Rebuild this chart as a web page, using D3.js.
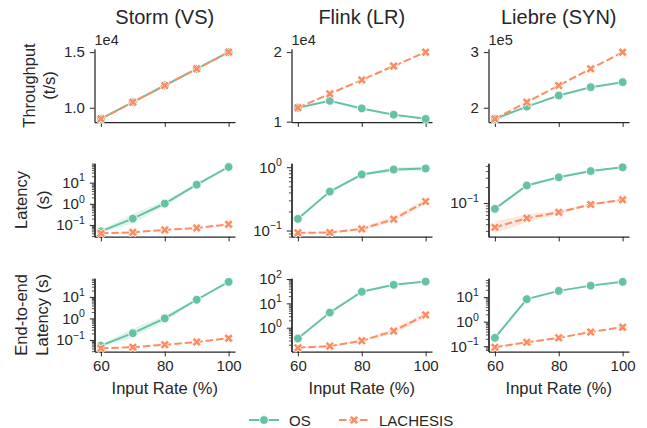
<!DOCTYPE html>
<html>
<head>
<meta charset="utf-8">
<script src="https://cdn.jsdelivr.net/npm/d3@7"></script>
<style>
  body { margin: 0; background: #fff; }
  text { font-family: "Liberation Sans", Arial, sans-serif; fill: #262626; }
</style>
</head>
<body>
<div id="chart"></div>
<script>
// ---- data ----
const inputRate = [60, 70, 80, 90, 100];
const systems = ["Storm (VS)", "Flink (LR)", "Liebre (SYN)"];
const metricLabels = [["Throughput", "(t/s)"], ["Latency", "(s)"], ["End-to-end", "Latency (s)"]];
const seriesNames = ["OS", "LACHESIS"];

// throughput (t/s)
const stormThrOS = [9000, 10500, 12000, 13500, 15000];
const stormThrLA = [9000, 10500, 12000, 13500, 15000];
const flinkThrOS = [12000, 13000, 11900, 11000, 10400];
const flinkThrLA = [12000, 14000, 16000, 18000, 20000];
const liebreThrOS = [180000, 202000, 222000, 237000, 246000];
const liebreThrLA = [180000, 210000, 240000, 270000, 300000];

// throughput tick values / labels / offset text
const stormThrTicks = [10000, 15000], stormThrTickText = ["1.0", "1.5"];
const flinkThrTicks = [10000, 20000], flinkThrTickText = ["1", "2"];
const liebreThrTicks = [200000, 300000], liebreThrTickText = ["2", "3"];
const thrOffsets = ["1e4", "1e4", "1e5"];

// latency (s)
const stormLatOS = [0.05, 0.2, 1.03, 8.0, 55];
const stormLatLA = [0.04, 0.045, 0.058, 0.072, 0.107];
const flinkLatOS = [0.153, 0.413, 0.767, 0.92, 0.955];
const flinkLatLA = [0.092, 0.093, 0.106, 0.151, 0.287];
const liebreLatOS = [0.078, 0.214, 0.305, 0.40, 0.47];
const liebreLatLA = [0.035, 0.052, 0.067, 0.094, 0.115];

// end-to-end latency (s)
const stormE2eOS = [0.054, 0.206, 1.0, 7.4, 50];
const stormE2eLA = [0.041, 0.046, 0.06, 0.08, 0.12];
const flinkE2eOS = [0.36, 4.2, 30, 58, 79];
const flinkE2eLA = [0.15, 0.175, 0.29, 0.73, 3.35];
const liebreE2eOS = [0.22, 8.3, 18, 29.5, 42];
const liebreE2eLA = [0.091, 0.145, 0.22, 0.38, 0.6];

// confidence bands as ratio around the mean (1 = no band)
const noBand = [1, 1, 1, 1, 1];
const stormLatOSBand = [1.15, 1.7, 1.35, 1.12, 1.04];
const stormE2eOSBand = [1.15, 1.65, 1.35, 1.12, 1.04];
const flinkLatOSBand = [1.03, 1.03, 1.05, 1.08, 1.07];
const flinkLatLABand = [1.02, 1.02, 1.06, 1.1, 1.1];
const flinkE2eLABand = [1.05, 1.05, 1.1, 1.3, 1.3];
const liebreLatOSBand = [1.08, 1.05, 1.03, 1.03, 1.03];
const liebreLatLABand = [1.3, 1.18, 1.08, 1.05, 1.05];
const liebreE2eOSBand = [1.2, 1.05, 1.03, 1.03, 1.03];
const liebreE2eLABand = [1.1, 1.05, 1.03, 1.03, 1.03];

// ---- layout ----
const W = 647, H = 428;
const colLeft = [94.5, 291.5, 488.5];
const rowTop = [48.8, 163.3, 278.2];
const panelW = 140.5, panelH = 73.4;
const green = "#66c2a5", orange = "#fc8d62", ink = "#262626";
const tickFont = 15;

const panels = [
  {row: 0, col: 0, log: false, os: stormThrOS, la: stormThrLA, ticks: stormThrTicks, tickText: stormThrTickText},
  {row: 0, col: 1, log: false, os: flinkThrOS, la: flinkThrLA, ticks: flinkThrTicks, tickText: flinkThrTickText},
  {row: 0, col: 2, log: false, os: liebreThrOS, la: liebreThrLA, ticks: liebreThrTicks, tickText: liebreThrTickText},
  {row: 1, col: 0, log: true, os: stormLatOS, la: stormLatLA, osBand: stormLatOSBand},
  {row: 1, col: 1, log: true, os: flinkLatOS, la: flinkLatLA, osBand: flinkLatOSBand, laBand: flinkLatLABand},
  {row: 1, col: 2, log: true, os: liebreLatOS, la: liebreLatLA, osBand: liebreLatOSBand, laBand: liebreLatLABand},
  {row: 2, col: 0, log: true, os: stormE2eOS, la: stormE2eLA, osBand: stormE2eOSBand},
  {row: 2, col: 1, log: true, os: flinkE2eOS, la: flinkE2eLA, laBand: flinkE2eLABand},
  {row: 2, col: 2, log: true, os: liebreE2eOS, la: liebreE2eLA, osBand: liebreE2eOSBand, laBand: liebreE2eLABand}
];

const svg = d3.select("#chart").append("svg")
  .attr("width", W)
  .attr("height", H);

// filled "X" marker like matplotlib's
function xMarkerPath(ms) {
  const pts = [[-1, -2], [0, -1], [1, -2], [2, -1], [1, 0], [2, 1],
               [1, 2], [0, 1], [-1, 2], [-2, 1], [-1, 0], [-2, -1]];
  return "M" + pts.map(p => [p[0] * ms / 4, p[1] * ms / 4].join(",")).join("L") + "Z";
}

function styleAxis(ax) {
  ax.select(".domain").attr("stroke", ink).attr("stroke-width", 1.25);
  ax.selectAll(".tick line").attr("stroke", ink).attr("stroke-width", 1);
  ax.selectAll(".tick text").attr("fill", ink);
  ax.attr("font-size", tickFont).attr("font-family", null);
}

panels.forEach(p => {
  const left = colLeft[p.col], top = rowTop[p.row];
  const g = svg.append("g").attr("transform", `translate(${left},${top})`);
  const osBand = p.osBand || noBand, laBand = p.laBand || noBand;

  const x = d3.scaleLinear().domain([58, 102]).range([0, panelW]);

  const allVals = [];
  [[p.os, osBand], [p.la, laBand]].forEach(([vals, band]) => {
    vals.forEach((v, i) => { allVals.push(v / band[i], v * band[i]); });
  });

  let y;
  if (p.log) {
    const lo = Math.log10(d3.min(allVals)), hi = Math.log10(d3.max(allVals));
    const pad = (hi - lo) * 0.05;
    y = d3.scaleLog().domain([10 ** (lo - pad), 10 ** (hi + pad)]).range([panelH, 0]);
  } else {
    const lo = d3.min(allVals), hi = d3.max(allVals);
    const pad = (hi - lo) * 0.05;
    y = d3.scaleLinear().domain([lo - pad, hi + pad]).range([panelH, 0]);
  }

  // bands
  [[p.os, osBand, green], [p.la, laBand, orange]].forEach(([vals, band, color]) => {
    if (band.every(b => b === 1)) return;
    const area = d3.area()
      .x((d, i) => x(inputRate[i]))
      .y0((d, i) => y(vals[i] / band[i]))
      .y1((d, i) => y(vals[i] * band[i]));
    g.append("path")
      .attr("d", area(vals))
      .attr("fill", color)
      .attr("fill-opacity", 0.2)
      .attr("stroke", "none");
  });

  // y axis
  if (p.log) {
    const [d0, d1] = y.domain();
    const e0 = Math.floor(Math.log10(d0)), e1 = Math.ceil(Math.log10(d1));
    const major = [], minor = [];
    for (let e = e0; e <= e1; e++) {
      if (10 ** e >= d0 && 10 ** e <= d1) major.push(10 ** e);
      for (let k = 2; k <= 9; k++) {
        const v = k * 10 ** e;
        if (v >= d0 && v <= d1) minor.push(v);
      }
    }
    const minorAx = g.append("g")
      .call(d3.axisLeft(y).tickValues(minor).tickSize(2.6).tickSizeOuter(0).tickFormat(""));
    styleAxis(minorAx);
    minorAx.selectAll(".tick line").attr("stroke-width", 0.8);
    const majorAx = g.append("g")
      .call(d3.axisLeft(y).tickValues(major).tickSize(4.7).tickPadding(5).tickSizeOuter(0).tickFormat(""));
    styleAxis(majorAx);
    majorAx.selectAll(".tick text").each(function (d) {
      const t = d3.select(this);
      const e = Math.round(Math.log10(d));
      t.text("10");
      t.append("tspan")
        .attr("dy", -6.5)
        .attr("font-size", 10.5)
        .text(e < 0 ? "\u2212" + (-e) : String(e));
    });
  } else {
    const yAx = g.append("g")
      .call(d3.axisLeft(y).tickValues(p.ticks).tickSize(4.7).tickPadding(5).tickSizeOuter(0)
        .tickFormat((d, i) => p.tickText[i]));
    styleAxis(yAx);
    g.append("text")
      .attr("x", 0)
      .attr("y", -4)
      .attr("font-size", 14.5)
      .text(thrOffsets[p.col]);
  }

  // x axis
  const xAx = g.append("g")
    .attr("transform", `translate(0,${panelH})`)
    .call(d3.axisBottom(x).tickValues([60, 80, 100]).tickSize(4.7).tickPadding(4.5).tickSizeOuter(0)
      .tickFormat(p.row === 2 ? d3.format("d") : ""));
  styleAxis(xAx);

  // lines
  const line = vals => d3.line()
    .x((d, i) => x(inputRate[i]))
    .y((d, i) => y(vals[i]))(vals);

  g.append("path")
    .attr("d", line(p.os))
    .attr("fill", "none")
    .attr("stroke", green)
    .attr("stroke-width", 2);
  g.selectAll(".os-pt").data(p.os).enter().append("circle")
    .attr("cx", (d, i) => x(inputRate[i]))
    .attr("cy", d => y(d))
    .attr("r", 4.4)
    .attr("fill", green)
    .attr("stroke", "#fff")
    .attr("stroke-width", 0.8);

  g.append("path")
    .attr("d", line(p.la))
    .attr("fill", "none")
    .attr("stroke", orange)
    .attr("stroke-width", 2)
    .attr("stroke-dasharray", "7.5,3");
  g.selectAll(".la-pt").data(p.la).enter().append("path")
    .attr("d", xMarkerPath(9))
    .attr("transform", (d, i) => `translate(${x(inputRate[i])},${y(d)})`)
    .attr("fill", orange)
    .attr("stroke", "#fff")
    .attr("stroke-width", 0.8);
});

// column titles
systems.forEach((s, c) => {
  svg.append("text")
    .attr("x", colLeft[c] + panelW / 2)
    .attr("y", 24)
    .attr("text-anchor", "middle")
    .attr("font-size", 20)
    .text(s);
});

// x labels
systems.forEach((s, c) => {
  svg.append("text")
    .attr("x", colLeft[c] + panelW / 2)
    .attr("y", 394)
    .attr("text-anchor", "middle")
    .attr("font-size", 16.5)
    .text("Input Rate (%)");
});

// y labels (two lines each, rotated)
const yLabelX = [[35, 55], [26.5, 49], [26.5, 48]];
metricLabels.forEach((lines, r) => {
  const cy = rowTop[r] + panelH / 2;
  lines.forEach((txt, k) => {
    svg.append("text")
      .attr("transform", `translate(${yLabelX[r][k]},${cy}) rotate(-90)`)
      .attr("text-anchor", "middle")
      .attr("font-size", 16.5)
      .text(txt);
  });
});

// legend
const legend = svg.append("g");
const legY = 420;
const legItems = [
  {name: seriesNames[0], x0: 249, color: green, dash: null, marker: "circle"},
  {name: seriesNames[1], x0: 339, color: orange, dash: "7.5,3", marker: "x"}
];
legItems.forEach(it => {
  legend.append("line")
    .attr("x1", it.x0).attr("x2", it.x0 + 30)
    .attr("y1", legY).attr("y2", legY)
    .attr("stroke", it.color)
    .attr("stroke-width", 2)
    .attr("stroke-dasharray", it.dash);
  if (it.marker === "circle") {
    legend.append("circle")
      .attr("cx", it.x0 + 15).attr("cy", legY).attr("r", 4.4)
      .attr("fill", it.color).attr("stroke", "#fff").attr("stroke-width", 0.8);
  } else {
    legend.append("path")
      .attr("d", xMarkerPath(9))
      .attr("transform", `translate(${it.x0 + 15},${legY})`)
      .attr("fill", it.color).attr("stroke", "#fff").attr("stroke-width", 0.8);
  }
  legend.append("text")
    .attr("x", it.x0 + 40)
    .attr("y", legY + 5.5)
    .attr("font-size", 15)
    .text(it.name);
});
</script>
</body>
</html>
